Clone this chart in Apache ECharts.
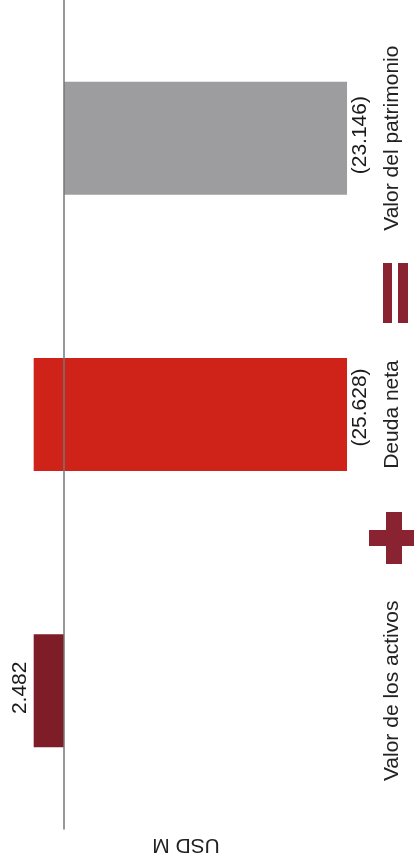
<!DOCTYPE html>
<html><head><meta charset="utf-8">
<script src="https://cdn.jsdelivr.net/npm/echarts@6/dist/echarts.min.js"></script>
<style>html,body{margin:0;padding:0;background:#fff}#c{width:414px;height:867px}</style>
</head><body><div id="c"></div>
<script>
// ---- data ----
const categories = ['Valor de los activos', 'Deuda neta', 'Valor del patrimonio'];
const values = [2482, -25628, -23146];
const isTotal = [false, false, true];
const unitLabel = 'USD M';

// ---- styles ----
const barColors = ['#7e1c27', '#cf2219', '#9d9d9f'];
const opColor = '#8a2331';
const FONT = 'Liberation Sans, Arial, sans-serif';

// running base for waterfall
const bases = [];
let run = 0;
values.forEach((v, i) => {
  if (isTotal[i]) { bases.push(0); run = v; }
  else { bases.push(run); run += v; }
});

function fmt(v) {
  const s = Math.abs(v).toString().replace(/\B(?=(\d{3})+(?!\d))/g, '.');
  return v < 0 ? '(' + s + ')' : s;
}

const chart = echarts.init(document.getElementById('c'), null, {renderer: 'canvas'});
chart.setOption({
  animation: false,
  backgroundColor: '#fff',
  textStyle: {fontFamily: FONT},
  grid: {left: 2.9, right: 44.3, top: -2, bottom: 38, containLabel: false},
  xAxis: {
    type: 'value', inverse: true, min: -25000, max: 5000,
    axisLine: {show: false}, axisTick: {show: false},
    axisLabel: {show: false}, splitLine: {show: false}
  },
  yAxis: [
    {
      type: 'category', data: categories, z: 5,
      axisLine: {show: true, onZero: true, lineStyle: {color: '#767676', width: 1.5}},
      axisTick: {show: false}, axisLabel: {show: false}
    },
    {
      type: 'category', data: categories, position: 'right',
      axisLine: {show: false}, axisTick: {show: false},
      axisLabel: {
        show: true, rotate: 90, align: 'center', verticalAlign: 'top',
        margin: 12, fontSize: 21, color: '#222', fontFamily: FONT
      }
    }
  ],
  series: [
    {
      type: 'bar', stack: 'w', stackStrategy: 'all', yAxisIndex: 0,
      data: bases, barWidth: 113, silent: true,
      itemStyle: {color: 'rgba(0,0,0,0)'}
    },
    {
      type: 'bar', stack: 'w', stackStrategy: 'all', yAxisIndex: 0,
      barWidth: 113,
      data: values.map((v, i) => ({
        value: v,
        itemStyle: {color: barColors[i]},
        label: {
          position: v >= 0 ? 'left' : 'right',
          verticalAlign: v >= 0 ? 'bottom' : 'top',
          offset: i === 1 ? [7, 0] : [3, 0]
        }
      })),
      label: {
        show: true, rotate: 90, align: 'center', distance: 3,
        fontSize: 21, color: '#1a1a1a', fontFamily: FONT,
        formatter: p => fmt(p.value)
      }
    }
  ],
  graphic: [
    {type: 'text', x: 186, y: 845, rotation: Math.PI,
     style: {text: unitLabel, fontSize: 21, fill: '#222', align: 'center', verticalAlign: 'middle', fontFamily: FONT}},
    {type: 'rect', shape: {x: 386, y: 512, width: 16, height: 52}, style: {fill: opColor}},
    {type: 'rect', shape: {x: 369, y: 530, width: 46, height: 16}, style: {fill: opColor}},
    {type: 'rect', shape: {x: 383, y: 263, width: 9, height: 60}, style: {fill: opColor}},
    {type: 'rect', shape: {x: 398, y: 263, width: 10, height: 60}, style: {fill: opColor}}
  ]
});
</script>
</body></html>
